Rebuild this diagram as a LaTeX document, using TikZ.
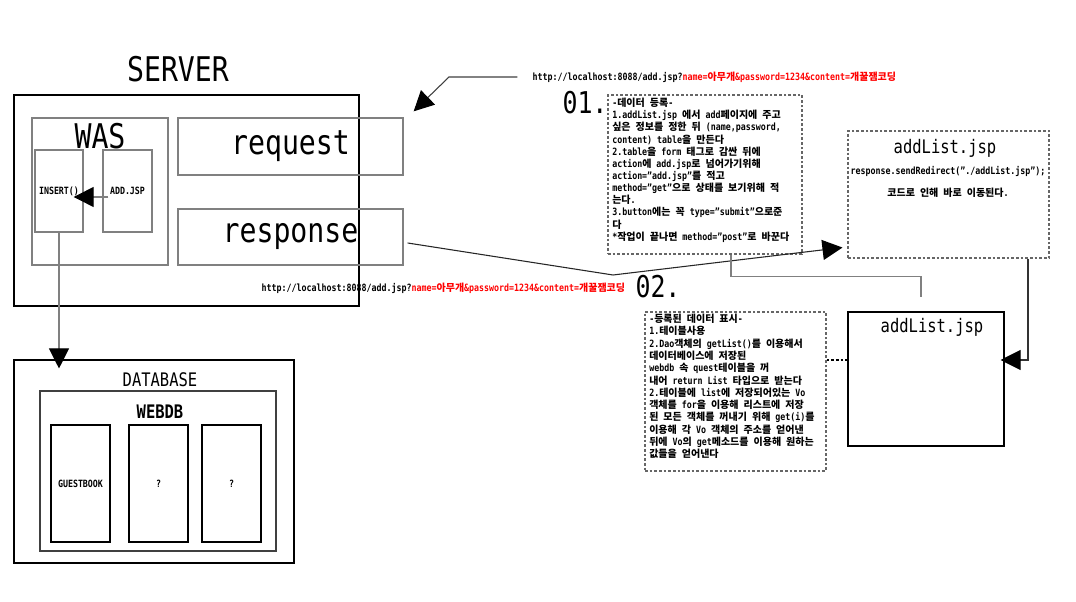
\documentclass[tikz,border=0pt]{standalone}
\usepackage{fontspec}
\setmainfont{DejaVu Sans Mono}[FakeStretch=0.83]
\newfontfamily\krfont{Noto Sans CJK KR}
\usetikzlibrary{arrows.meta}

% hangul syllables are set in the korean font
\XeTeXinterchartokenstate=1
\newXeTeXintercharclass\hangulclass
\count255="AC00
\loop
  \XeTeXcharclass\count255=\hangulclass
\ifnum\count255<"D7A3
  \advance\count255 by 1
\repeat
\XeTeXinterchartoks 0 \hangulclass = {\krfont}
\XeTeXinterchartoks 4095 \hangulclass = {\krfont}
\XeTeXinterchartoks \hangulclass 0 = {\rmfamily}
\XeTeXinterchartoks \hangulclass 4095 = {\rmfamily}

\begin{document}
\begin{tikzpicture}[x=0.75pt,y=-0.75pt,
  sty1/.style={draw=black, line width=0.8pt, inner sep=0},
  sty2/.style={draw=gray, line width=1pt, inner sep=0},
  sty3/.style={draw=gray!80!black, line width=0.8pt, dash pattern=on 2pt off 1.5pt, inner sep=0},
  sty4/.style={line width=0.8pt, -{Triangle[length=15pt,width=15pt,color=black]}},
  big/.style={font=\fontsize{25.5}{28}\selectfont},
  mid/.style={font=\fontsize{14}{16}\selectfont},
  small/.style={font=\fontsize{7.5}{9.1}\selectfont\bfseries}]

\fill[white] (0,0) rectangle (1076,602);
\useasboundingbox (0,0) rectangle (1076,602);

%%%%%%%%%%%  Server  %%%%%%%%%%%%%%%%%%%%%
\node[sty1, minimum width=258.75pt, minimum height=158.25pt] (server) at (186.5,200.5) {};
\node[big] (serverlbl) at (178,69) {SERVER};

% WAS with its two parts
\node[sty2, minimum width=102pt, minimum height=110.25pt] (was) at (100,191.5) {};
\node[big] (waslbl) at (100,136) {WAS};
\node[sty2, small, minimum width=36pt, minimum height=61.5pt] (insert) at (59,191) {INSERT()};
\node[sty2, small, minimum width=36.75pt, minimum height=61.5pt] (addjsp) at (127.5,191) {ADD.JSP};

% request / response
\node[sty2, big, minimum width=168.75pt, minimum height=42.75pt] (request) at (290.5,146.5) {request};
\node[sty2, big, minimum width=168.75pt, minimum height=42pt] (response) at (290.5,237) {response};

%%%%%%%%%%%  Database  %%%%%%%%%%%%%%%%%%%
\node[sty1, minimum width=210pt, minimum height=152.25pt] (database) at (154,461.5) {};
\node[mid] (dblbl) at (160,380) {DATABASE};
\node[sty2, draw=black!75, minimum width=177pt, minimum height=120pt] (webdb) at (158,471) {};
\node[mid, font=\fontsize{14}{16}\selectfont\bfseries] (webdblbl) at (160,412) {WEBDB};
\foreach \x/\t/\n in {80.5/GUESTBOOK/tb1, 158.5/?/tb2, 231.5/?/tb3}
  \node[sty1, small, minimum width=44.25pt, minimum height=87.75pt] (\n) at (\x,483.5) {\t};

%%%%%%%%%%%  01. request note  %%%%%%%%%%%%
\node[small, anchor=west] (url1) at (528,77)
  {http://localhost:8088/add.jsp?\textcolor{red}{name=아무개\&password=1234\&content=개꿀잼코딩}};
\node[font=\fontsize{22.5}{24}\selectfont] (one) at (585,103) {01.};
\node[sty3, minimum width=145.5pt, minimum height=119.25pt] (note1) at (705,174.5) {};
\node[small, anchor=north west, align=left, inner sep=0] (note1txt) at (612,98) {%
-데이터 등록-\\
1.addList.jsp 에서 add페이지에 주고\\
싶은 정보를 정한 뒤 (name,password,\\
content) table을 만든다\\
2.table을 form 태그로 감싼 뒤에\\
action에 add.jsp로 넘어가기위해\\
action="add.jsp"를 적고\\
method="get"으로 상태를 보기위해 적\\
는다.\\
3.button에는 꼭 type="submit"으로준\\
다\\
*작업이 끝나면 method="post"로 바꾼다};

%%%%%%%%%%%  redirect note  %%%%%%%%%%%%%%%
\node[sty3, minimum width=150.75pt, minimum height=95.25pt] (redirect) at (948.5,194.5) {};
\node[mid] (redirlbl) at (945,148) {addList.jsp};
\node[small] (redircode) at (948,171) {response.sendRedirect("./addList.jsp");};
\node[small] (redirkr) at (948,193) {코드로 인해 바로 이동된다.};

%%%%%%%%%%%  02. list note  %%%%%%%%%%%%%%%
\node[sty1, minimum width=117pt, minimum height=100.5pt] (addlist) at (926,379) {};
\node[mid] (addlistlbl) at (932,327) {addList.jsp};
\node[small, anchor=west] (url2) at (257,288)
  {http://localhost:8088/add.jsp?\textcolor{red}{name=아무개\&password=1234\&content=개꿀잼코딩}};
\node[font=\fontsize{22.5}{24}\selectfont] (two) at (658,287) {02.};
\node[sty3, minimum width=135.75pt, minimum height=119.25pt] (note2) at (735.5,391.5) {};
\node[small, font=\fontsize{7.5}{9.2}\selectfont\bfseries, anchor=north west, align=left, inner sep=0] (note2txt) at (649,314) {%
-등록된 데이터 표시-\\
1.테이블사용\\
2.Dao객체의 getList()를 이용해서\\
데이터베이스에 저장된\\
webdb 속 quest테이블을 꺼\\
내어 return List 타입으로 받는다\\
2.테이블에 list에 저장되어있는 Vo\\
객체를 for을 이용해 리스트에 저장\\
된 모든 객체를 꺼내기 위해 get(i)를\\
이용해 각 Vo 객체의 주소를 얻어낸\\
뒤에 Vo의 get메소드를 이용해 원하는\\
값들을 얻어낸다};

%%%%%%%%%%%  Connectors  %%%%%%%%%%%%%%%%%%
\coordinate (bend1) at (449,77);
\coordinate (bend2) at (613,275);
\coordinate (stub) at (921,297);

\draw[sty4, draw=black!75, shorten <=8pt] (url1.west) -- (bend1) -- ([shift={(10,-6)}]request.north east);
\draw[sty4, draw=black!85] ([shift={(4,6)}]response.east) -- (bend2) -- ([shift={(-5,-11)}]redirect.south west);
\draw[sty2] ([shift={(26,0)}]note1.south) -- ++(0,22) -| (stub);
\draw[sty4, draw=black!80] ([shift={(79.5,0)}]redirect.south) |- ([shift={(-4,-19)}]addlist.east);
\draw[sty3, draw=black] ([shift={(0,-31.5)}]note2.east) -- ([shift={(0,-19)}]addlist.west);
\draw[sty4, draw=gray, shorten >=-6.75pt] (insert.south) -- (insert.south |- database.north);
\draw[sty4, draw=gray] ([shift={(6,6)}]addjsp.west) -- ([shift={(-10,6)}]insert.east);

\end{tikzpicture}
\end{document}
